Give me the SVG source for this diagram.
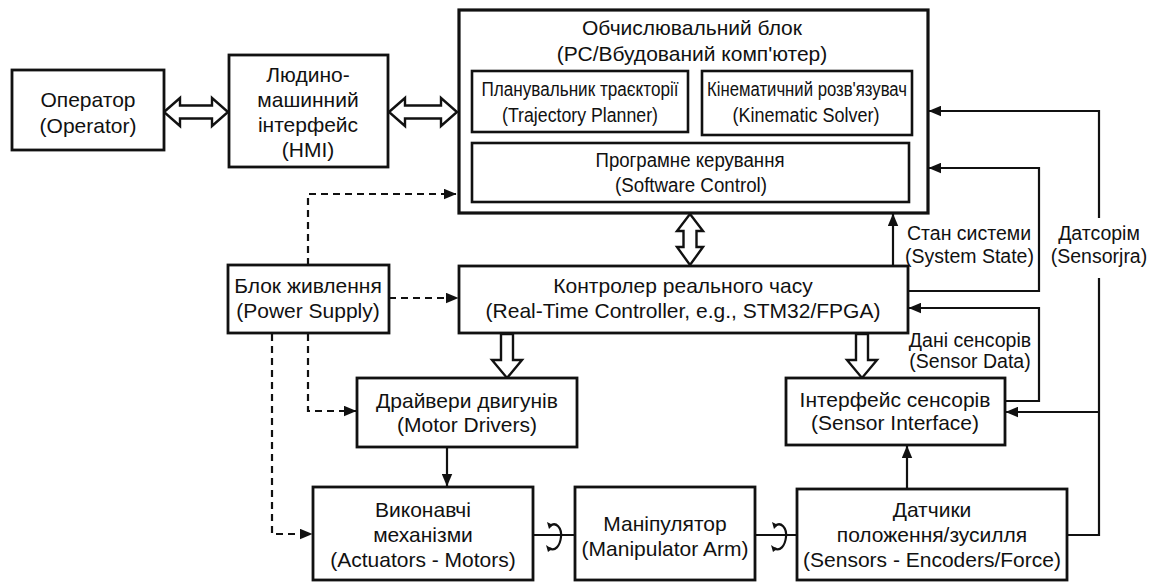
<svg xmlns="http://www.w3.org/2000/svg" width="1159" height="582" viewBox="0 0 1159 582">
  <style>
    .box { fill: #fff; stroke: #111; stroke-width: 2.8; }
    .inner { fill: none; stroke: #111; stroke-width: 2.6; }
    .lbl { font-family: "Liberation Sans", Arial, sans-serif; font-size: 21px; fill: #111; text-anchor: middle; }
    .sub { font-family: "Liberation Sans", Arial, sans-serif; font-size: 20px; fill: #111; text-anchor: middle; }
    .note { font-family: "Liberation Sans", Arial, sans-serif; font-size: 19.5px; fill: #111; }
    .wire { fill: none; stroke: #111; stroke-width: 2.2; }
    .dash { fill: none; stroke: #111; stroke-width: 2.2; stroke-dasharray: 7 5; }
    .hollow { fill: #fff; stroke: #111; stroke-width: 2.4; stroke-linejoin: miter; }
    .rot { fill: none; stroke: #111; stroke-width: 2.2; }
  </style>
  <defs>
    <marker id="tip" viewBox="0 0 12 10" refX="11.5" refY="5" markerWidth="13" markerHeight="11" markerUnits="userSpaceOnUse" orient="auto">
      <path d="M0,0 L12,5 L0,10 Z" fill="#111"/>
    </marker>
  </defs>
  <rect width="1159" height="582" fill="#fff"/>

  <!-- connectors -->
  <g id="connectors">
    <!-- operator <-> HMI -->
    <polygon class="hollow" points="164,112 180,98 180,105.5 212,105.5 212,98 228,112 212,126 212,118.5 180,118.5 180,126"/>
    <!-- HMI <-> computing unit -->
    <polygon class="hollow" points="389,112 405,98 405,105.5 441,105.5 441,98 457,112 441,126 441,118.5 405,118.5 405,126"/>
    <!-- computing unit <-> real-time controller -->
    <polygon class="hollow" points="690,214 703,231 696.5,231 696.5,247 703,247 690,265 677,247 683.5,247 683.5,231 677,231"/>
    <!-- controller => motor drivers -->
    <polygon class="hollow" points="501,334 513,334 513,360 522,360 507,378 492,360 501,360"/>
    <!-- controller => sensor interface -->
    <polygon class="hollow" points="856,334 868,334 868,360 877,360 862,378 847,360 856,360"/>

    <!-- power feeds -->
    <path class="dash" d="M308,265 V194 H456" marker-end="url(#tip)"/>
    <path class="dash" d="M389,298 H458" marker-end="url(#tip)"/>
    <path class="dash" d="M308,334 V411 H356" marker-end="url(#tip)"/>
    <path class="dash" d="M272,334 V534 H312" marker-end="url(#tip)"/>

    <!-- motor drivers -> actuators -->
    <path class="wire" d="M447,448 V486" marker-end="url(#tip)"/>

    <!-- system state -->
    <path class="wire" d="M893,266 V214" marker-end="url(#tip)"/>
    <path class="wire" d="M909,291 H1039 V168 H929" marker-end="url(#tip)"/>
    <!-- sensor data -->
    <path class="wire" d="M1006,401 H1039 V308 H909" marker-end="url(#tip)"/>
    <!-- sensor feedback bus -->
    <path class="wire" d="M1068,535 H1099 V278"/>
    <path class="wire" d="M1099,218 V111 H929" marker-end="url(#tip)"/>
    <path class="wire" d="M1099,412 H1006" marker-end="url(#tip)"/>
    <!-- sensors -> sensor interface -->
    <path class="wire" d="M907,488 V446" marker-end="url(#tip)"/>

    <!-- mechanical shafts with rotation marks -->
    <path class="wire" d="M534,535 H575"/>
    <path class="rot" d="M550,526 C556,521 562,528 561,537 C560,546 555,552 549,548"/>
    <path d="M547,522 L553,525 L549,529 Z" fill="#111"/>
    <path d="M546,545 L552,549 L548,552 Z" fill="#111"/>
    <path class="wire" d="M756,535 H797"/>
    <path class="rot" d="M775,526 C781,521 787,528 786,537 C785,546 780,552 774,548"/>
    <path d="M772,522 L778,525 L774,529 Z" fill="#111"/>
    <path d="M771,545 L777,549 L773,552 Z" fill="#111"/>

    <!-- connector labels -->
    <text class="note" x="907" y="240">Стан системи</text>
    <text class="note" x="905" y="263">(System State)</text>
    <text class="note" x="1099" y="240" text-anchor="middle">Датсорім</text>
    <text class="note" x="1099" y="263" text-anchor="middle">(Sensorjra)</text>
    <text class="note" x="970" y="347" text-anchor="middle">Дані сенсорів</text>
    <text class="note" x="970" y="368" text-anchor="middle">(Sensor Data)</text>
  </g>

  <g id="operator">
    <rect class="box" x="12" y="70" width="152" height="80"/>
    <text class="lbl" x="88" y="107">Оператор</text>
    <text class="lbl" x="88" y="133">(Operator)</text>
  </g>

  <g id="hmi">
    <rect class="box" x="229" y="55" width="159" height="112"/>
    <text class="lbl" x="308" y="82">Людино-</text>
    <text class="lbl" x="308" y="107">машинний</text>
    <text class="lbl" x="308" y="132">інтерфейс</text>
    <text class="lbl" x="308" y="157">(HMI)</text>
  </g>

  <g id="computing-unit">
    <rect class="box" x="459" y="10" width="469" height="203" style="stroke-width:3.2"/>
    <text class="lbl" x="692" y="35">Обчислювальний блок</text>
    <text class="lbl" x="692" y="61">(РС/Вбудований комп'ютер)</text>
  </g>

  <g id="trajectory-planner">
    <rect class="inner" x="472" y="71" width="216" height="61"/>
    <text class="sub" x="580" y="96" textLength="197" lengthAdjust="spacingAndGlyphs">Планувальник траєкторії</text>
    <text class="sub" x="580" y="122" textLength="156" lengthAdjust="spacingAndGlyphs">(Trajectory Planner)</text>
  </g>

  <g id="kinematic-solver">
    <rect class="inner" x="702" y="71" width="210" height="64"/>
    <text class="sub" x="807" y="96" textLength="200" lengthAdjust="spacingAndGlyphs">Кінематичний розв'язувач</text>
    <text class="sub" x="806" y="122" textLength="147" lengthAdjust="spacingAndGlyphs">(Kinematic Solver)</text>
  </g>

  <g id="software-control">
    <rect class="inner" x="472" y="143" width="437" height="59"/>
    <text class="sub" x="690" y="167" textLength="189" lengthAdjust="spacingAndGlyphs">Програмне керування</text>
    <text class="sub" x="691" y="192" textLength="152" lengthAdjust="spacingAndGlyphs">(Software Control)</text>
  </g>

  <g id="power-supply">
    <rect class="box" x="228" y="265" width="161" height="68"/>
    <text class="lbl" x="308" y="293">Блок живлення</text>
    <text class="lbl" x="308" y="318">(Power Supply)</text>
  </g>

  <g id="rt-controller">
    <rect class="box" x="459" y="266" width="449" height="67"/>
    <text class="lbl" x="683" y="293">Контролер реального часу</text>
    <text class="lbl" x="683" y="318">(Real-Time Controller, e.g., STM32/FPGA)</text>
  </g>

  <g id="motor-drivers">
    <rect class="box" x="357" y="378" width="220" height="69"/>
    <text class="lbl" x="467" y="408">Драйвери двигунів</text>
    <text class="lbl" x="467" y="432">(Motor Drivers)</text>
  </g>

  <g id="sensor-interface">
    <rect class="box" x="786" y="378" width="219" height="67"/>
    <text class="lbl" x="895" y="407">Інтерфейс сенсорів</text>
    <text class="lbl" x="895" y="430">(Sensor Interface)</text>
  </g>

  <g id="actuators">
    <rect class="box" x="313" y="487" width="220" height="93"/>
    <text class="lbl" x="423" y="517">Виконавчі</text>
    <text class="lbl" x="423" y="542">механізми</text>
    <text class="lbl" x="423" y="567">(Actuators - Motors)</text>
  </g>

  <g id="manipulator">
    <rect class="box" x="575" y="487" width="180" height="93"/>
    <text class="lbl" x="665" y="531">Маніпулятор</text>
    <text class="lbl" x="665" y="556">(Manipulator Arm)</text>
  </g>

  <g id="sensors">
    <rect class="box" x="797" y="489" width="270" height="91"/>
    <text class="lbl" x="932" y="517">Датчики</text>
    <text class="lbl" x="932" y="542">положення/зусилля</text>
    <text class="lbl" x="932" y="567">(Sensors - Encoders/Force)</text>
  </g>
</svg>
